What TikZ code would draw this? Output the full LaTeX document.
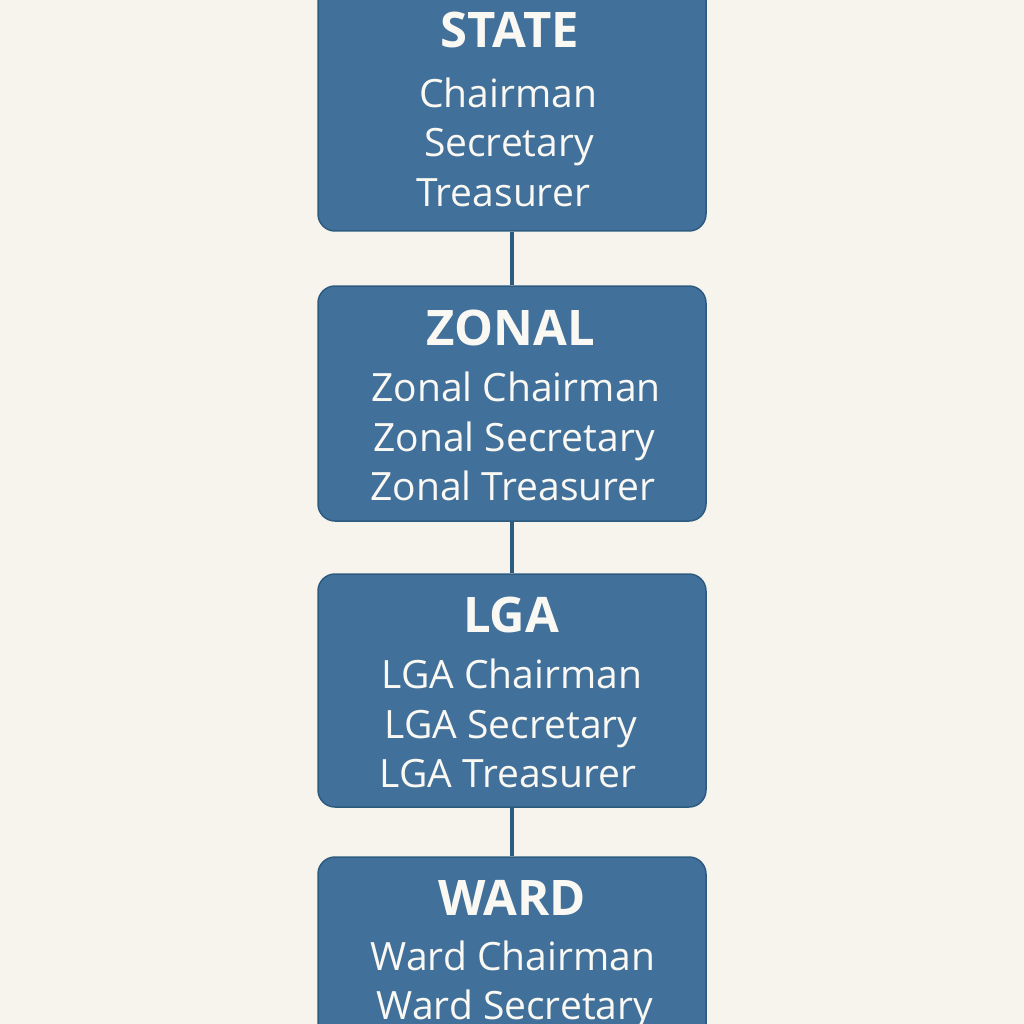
\documentclass[tikz,border=0pt]{standalone}
\usepackage{fontspec}
\setmainfont{Open Sans}
\definecolor{bg}{HTML}{F7F4EE}
\definecolor{boxfill}{HTML}{41709A}
\definecolor{boxline}{HTML}{2D5B80}
\definecolor{boxtext}{HTML}{FAF8F3}
\begin{document}
\begin{tikzpicture}[x=1pt,y=-1pt,
  box/.style={draw=boxline, line width=1.5pt, fill=boxfill, rounded corners=17pt, minimum width=388pt, inner sep=0pt},
  title/.style={text=boxtext, anchor=base, inner sep=0pt, font=\bfseries\fontsize{49}{49}\selectfont},
  role/.style={text=boxtext, anchor=base, inner sep=0pt, font=\fontsize{39}{39}\selectfont},
  link/.style={draw=boxline, line width=4.5pt}]
\fill[bg] (0,0) rectangle (1024,1024);
\useasboundingbox (0,0) rectangle (1024,1024);
\clip (0,0) rectangle (1024,1024);
% boxes
\node[box, minimum height=251pt] (state) at (512,105.5) {};
\node[box, minimum height=235pt] (zonal) at (512,403.5) {};
\node[box, minimum height=233pt] (lga) at (512,690.5) {};
\node[box, minimum height=233pt] (ward) at (512,973.5) {};
% connectors
\draw[link] (state.south) -- (zonal.north);
\draw[link] (zonal.south) -- (lga.north);
\draw[link] (lga.south) -- (ward.north);
% STATE
\node[title] (t1) at (510,48) {STATE};
\node[role] (s1) at (508,108) {Chairman};
\node[role] (s2) at (509,157) {Secretary};
\node[role] (s3) at (503,207) {Treasurer};
% ZONAL
\node[title] (t2) at (511,345) {ZONAL};
\node[role] (z1) at (516,401) {Zonal Chairman};
\node[role] (z2) at (514,451) {Zonal Secretary};
\node[role] (z3) at (513,500) {Zonal Treasurer};
% LGA
\node[title] (t3) at (511,632) {LGA};
\node[role] (l1) at (512,688) {LGA Chairman};
\node[role] (l2) at (511,738) {LGA Secretary};
\node[role] (l3) at (508,787) {LGA Treasurer};
% WARD
\node[title] (t4) at (512,915) {WARD};
\node[role] (w1) at (513,970) {Ward Chairman};
\node[role] (w2) at (515,1019) {Ward Secretary};
\end{tikzpicture}
\end{document}
